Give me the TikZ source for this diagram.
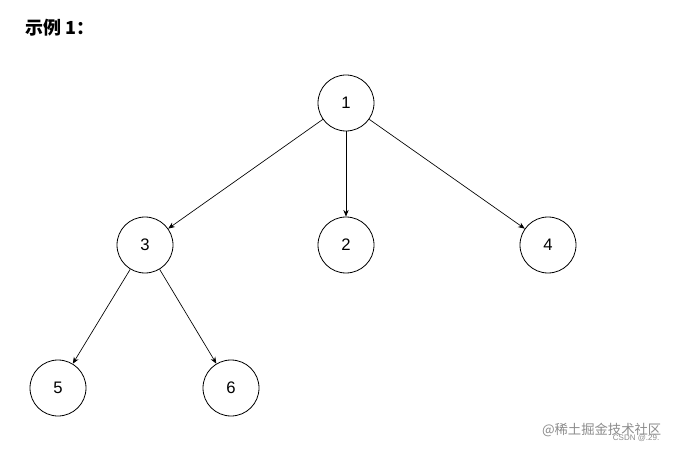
\documentclass[tikz,border=0pt]{standalone}
\usepackage{fontspec}
\setmainfont{Liberation Sans}
\newfontfamily\cjk{Noto Sans CJK SC}
\usetikzlibrary{arrows.meta}
\begin{document}
\begin{tikzpicture}[x=0.75pt,y=-0.75pt,
  tn/.style={circle,draw,line width=0.6pt,minimum size=42pt,inner sep=0pt,font=\fontsize{12.5}{14}\selectfont},
  ed/.style={draw,line width=0.5pt,-{Stealth[length=5pt,width=4pt]}}]
\useasboundingbox[fill=white] (0,0) rectangle (678,452);
\node[anchor=west,font=\cjk\bfseries\fontsize{13.5}{16}\selectfont] (t) at (21,28) {示例 1：};
\node[tn] (n1) at (346,103) {1};
\node[tn] (n3) at (145,245) {3};
\node[tn] (n2) at (346,245) {2};
\node[tn] (n4) at (548,245) {4};
\node[tn] (n5) at (58,388) {5};
\node[tn] (n6) at (231,388) {6};
\draw[ed] (n1) -- (n3);
\draw[ed] (n1) -- (n2);
\draw[ed] (n1) -- (n4);
\draw[ed] (n3) -- (n5);
\draw[ed] (n3) -- (n6);
\node[anchor=east,text=black!45,font=\cjk\fontsize{10}{12}\selectfont] (w) at (666,430) {@稀土掘金技术社区};
\node[anchor=east,text=black!45,font=\fontsize{6}{7}\selectfont] (c) at (664,438) {CSDN @.29.};
\end{tikzpicture}
\end{document}
